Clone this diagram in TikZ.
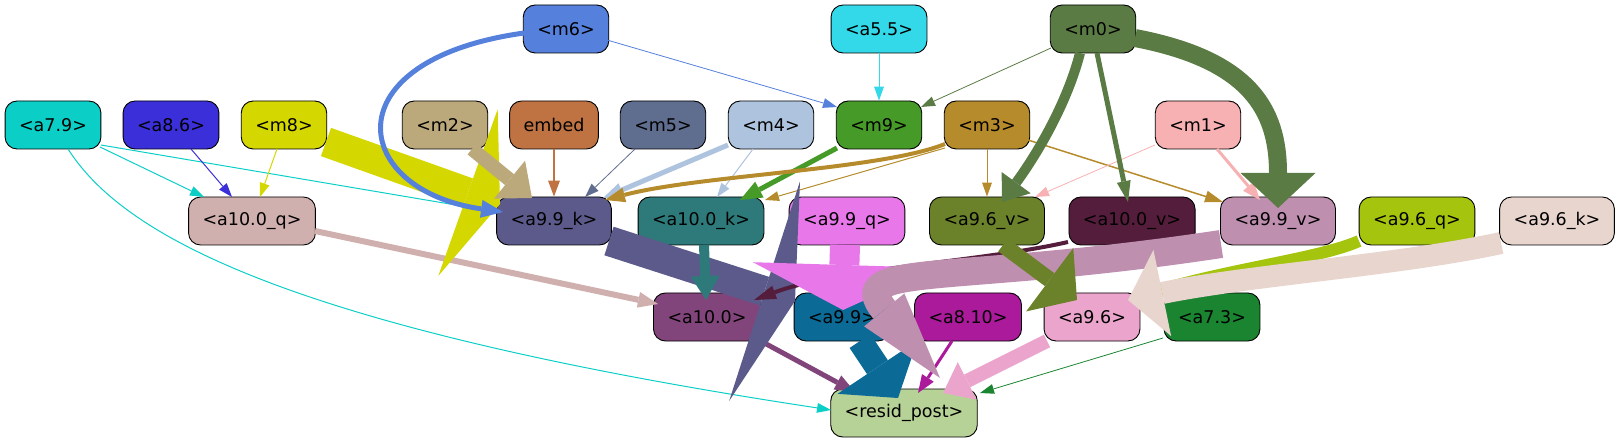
\documentclass[tikz,border=0pt]{standalone}
\usepackage{fontspec}
\setmainfont{DejaVu Sans}
\usetikzlibrary{arrows.meta,calc}

\definecolor{cA79}{HTML}{0BCFC6}
\definecolor{cA86}{HTML}{3A2FD9}
\definecolor{cM8}{HTML}{D4D700}
\definecolor{cM2}{HTML}{BBA97B}
\definecolor{cEmb}{HTML}{C07342}
\definecolor{cM6}{HTML}{5580DB}
\definecolor{cA55}{HTML}{33D9E8}
\definecolor{cM5}{HTML}{5F6D8F}
\definecolor{cM4}{HTML}{AEC4DE}
\definecolor{cM9}{HTML}{469A27}
\definecolor{cM3}{HTML}{B68B2C}
\definecolor{cM0}{HTML}{5B7B44}
\definecolor{cM1}{HTML}{F7B1B3}
\definecolor{cAqx}{HTML}{D0B0AE}
\definecolor{cA99k}{HTML}{5C5A8A}
\definecolor{cAkx}{HTML}{2E7A7A}
\definecolor{cA99q}{HTML}{E878EA}
\definecolor{cA96v}{HTML}{6B822B}
\definecolor{cAvx}{HTML}{541D3B}
\definecolor{cA99v}{HTML}{BF8FB0}
\definecolor{cA96q}{HTML}{A5C40D}
\definecolor{cA96k}{HTML}{E8D5CE}
\definecolor{cAx}{HTML}{82457B}
\definecolor{cA99}{HTML}{0C6A96}
\definecolor{cA810}{HTML}{AA1A9B}
\definecolor{cA96}{HTML}{EBA5CC}
\definecolor{cA73}{HTML}{1B8431}
\definecolor{cRes}{HTML}{B7D296}

\tikzset{
  nd/.style={draw=black, line width=0.9pt, rounded corners=12pt, minimum height=48pt,
    inner xsep=14pt, inner ysep=0pt, font=\fontsize{17.5}{21}\selectfont},
  hd/.style 2 args={-{Triangle[length=#1,width=#2,line width=0pt]}},
  thn/.style={line width=1pt, hd={14pt}{10pt}}
}

\begin{document}
\begin{tikzpicture}[x=1pt, y=-1pt]
  \useasboundingbox (0,0) rectangle (1621,443);
  % Nodes
  \foreach \n/\x/\y/\c/\t in {m6/566/29/cM6/{<m6>}, a55/879/29/cA55/{<a5.5>}, m0/1093/29/cM0/{<m0>},
      a79/53/125/cA79/{<a7.9>}, a86/171/125/cA86/{<a8.6>}, m8/284/125/cM8/{<m8>}, m2/445/125/cM2/{<m2>},
      emb/554/125/cEmb/{embed}, m5/663/125/cM5/{<m5>}, m4/771/125/cM4/{<m4>}, m9/879/125/cM9/{<m9>},
      m3/987/125/cM3/{<m3>}, m1/1198/125/cM1/{<m1>}} {
    \node[nd, fill=\c] (\n) at (\x,\y) {\t};
  }
  \foreach \n/\x/\y/\c/\t in {a100q/252/221/cAqx/{<a10.0\_q>}, a99k/554/221/cA99k/{<a9.9\_k>},
      a100k/701/221/cAkx/{<a10.0\_k>}, a99q/847/221/cA99q/{<a9.9\_q>}, a96v/987/221/cA96v/{<a9.6\_v>},
      a100v/1132/221/cAvx/{<a10.0\_v>}, a99v/1278/221/cA99v/{<a9.9\_v>}, a96q/1417/221/cA96q/{<a9.6\_q>},
      a96k/1557/221/cA96k/{<a9.6\_k>},
      a100/707/317/cAx/{<a10.0>}, a99/842/317/cA99/{<a9.9>}, a810/968/317/cA810/{<a8.10>},
      a96/1092/317/cA96/{<a9.6>}, a73/1212/317/cA73/{<a7.3>}, res/904/413/cRes/{<resid\_post>}} {
    \node[nd, fill=\c] (\n) at (\x,\y) {\t};
  }
  % Thin edges
  \draw[cA79, thn] ($(a79)+(47,22)$) -- ($(a100q)+(-48,-24)$);
  \draw[cA79, thn] ($(a79)+(48,20)$) -- ($(a99k)+(-57,-9)$);
  \draw[cA79, thn] ($(a79)+(15,24)$) .. controls +(52,81) and +(-561,-85) .. ($(res)+(-73,-3)$);
  \draw[cA86, thn] ($(a86)+(20,24)$) -- ($(a100q)+(-20,-24)$);
  \draw[cM8, thn] ($(m8)+(-7,24)$) -- ($(a100q)+(8,-24)$);
  \draw[cEmb, line width=2pt, hd={16pt}{12pt}] (emb.south) -- (a99k.north);
  \draw[cM5, thn, line width=0.8pt] ($(m5)+(-28,24)$) -- ($(a99k)+(31,-24)$);
  \draw[cM4, thn] ($(m4)+(-18,24)$) -- ($(a100k)+(16,-24)$);
  \draw[cM6, thn, line width=0.8pt] ($(m6)+(41,11)$) -- ($(m9)+(-42,-18)$);
  \draw[cA55, thn] (a55.south) -- (m9.north);
  \draw[cM0, thn, line width=0.8pt] ($(m0)+(-42,19)$) -- ($(m9)+(42,-18)$);
  \draw[cM3, thn] ($(m3)+(-42,23)$) -- ($(a100k)+(64,-21)$);
  \draw[cM3, thn] (m3.south) -- (a96v.north);
  \draw[cM3, line width=1.5pt, hd={18pt}{12pt}] ($(m3)+(41,15)$) -- ($(a99v)+(-55,-19)$);
  \draw[cM1, thn, line width=0.8pt] ($(m1)+(-43,20)$) -- ($(a96v)+(48,-24)$);
  \draw[cM1, line width=3pt, hd={18pt}{14pt}] ($(m1)+(19,24)$) -- ($(a99v)+(-18,-21)$);
  \draw[cM0, line width=5pt, hd={21pt}{14pt}] ($(m0)+(4,24)$) -- ($(a100v)+(-4,-19)$);
  \draw[cM4, line width=5pt, hd={20pt}{15pt}] ($(m4)+(-43,20)$) -- ($(a99k)+(49,-23)$);
  \draw[cM9, line width=5pt, hd={22pt}{18pt}] ($(m9)+(-42,23)$) -- ($(a100k)+(39,-21)$);
  \draw[cM3, line width=4pt, hd={20pt}{15pt}] ($(m3)+(-42,19)$) .. controls +(-65,26) and +(95,-25) .. ($(a99k)+(51,-21)$);
  \draw[cAqx, line width=6pt, hd={20pt}{16pt}] ($(a100q)+(63,10)$) -- ($(a100)+(-49,-13)$);
  \draw[cA73, thn, line width=0.8pt] ($(a73)+(-49,21)$) -- ($(res)+(76,-20)$);
  \draw[cA810, line width=3pt, hd={18pt}{14pt}] ($(a810)+(-16,24)$) -- ($(res)+(14,-20)$);
  % Heavy edges into a9.9_k
  \draw[cM8, line width=30pt, hd={34pt}{177pt}] ($(m8)+(42,17)$) -- ($(a99k)+(-54,-17)$);
  \draw[cM2, line width=14pt, hd={29pt}{49pt}] ($(m2)+(27,24)$) -- ($(a99k)+(-22,-23)$);
  \draw[cM6, line width=5pt, hd={22pt}{18pt}] ($(m6)+(-42,4)$) .. controls +(-194,27) and +(-153,-22) .. ($(a99k)+(-51,-9)$);
  % m0 fan
  \draw[cM0, line width=10pt, hd={24pt}{36pt}] ($(m0)+(-13,24)$) .. controls +(-12,47) and +(38,-52) .. ($(a96v)+(15,-19)$);
  \draw[cM0, line width=18pt, hd={35pt}{75pt}] ($(m0)+(42,9)$) .. controls +(115,22) and +(0,-98) .. ($(a99v)+(0,-13)$);
  % Into the lower row
  \draw[cAx, line width=5pt, hd={20pt}{16pt}] ($(a100)+(50,22)$) -- ($(res)+(-49,-21)$);
  \draw[cA99k, line width=30pt, hd={32pt}{231pt}] ($(a99k)+(55,20)$) -- ($(a99)+(-47,-16)$);
  \draw[cAkx, line width=10pt, hd={24pt}{29pt}] ($(a100k)+(3,24)$) -- ($(a100)+(-1,-17)$);
  \draw[cAvx, line width=4pt, hd={22pt}{14pt}] ($(a100v)+(-64,21)$) .. controls +(-88,20) and +(86,-32) .. ($(a100)+(47,-17)$);
  \draw[cA99q, line width=30pt, hd={45pt}{183pt}] ($(a99q)+(-2,24)$) -- ($(a99)+(1,-7)$);
  \draw[cA99, line width=25pt, hd={37pt}{96pt}] ($(a99)+(18,24)$) -- ($(res)+(-6,-15)$);
  \draw[cA96q, line width=12pt, hd={20pt}{40pt}] ($(a96q)+(-58,20)$) .. controls +(-40,18) and +(90,-30) .. ($(a96)+(38,-17)$);
  \draw[cA99v, line width=28pt, hd={88pt}{52pt}] ($(a99v)+(-57,23)$) .. controls +(-271,41) and +(-95,-116) .. ($(res)+(36,-35)$);
  \draw[cA96v, line width=16pt, hd={34pt}{79pt}] ($(a96v)+(16,24)$) -- ($(a96)+(-15,-17)$);
  \draw[cA96k, line width=22pt, hd={35pt}{88pt}] ($(a96k)+(-56,22)$) .. controls +(-101,22) and +(122,-25) .. ($(a96)+(36,-17)$);
  \draw[cA96, line width=14pt, hd={27pt}{42pt}] ($(a96)+(-45,24)$) -- ($(res)+(39,-20)$);
\end{tikzpicture}
\end{document}
